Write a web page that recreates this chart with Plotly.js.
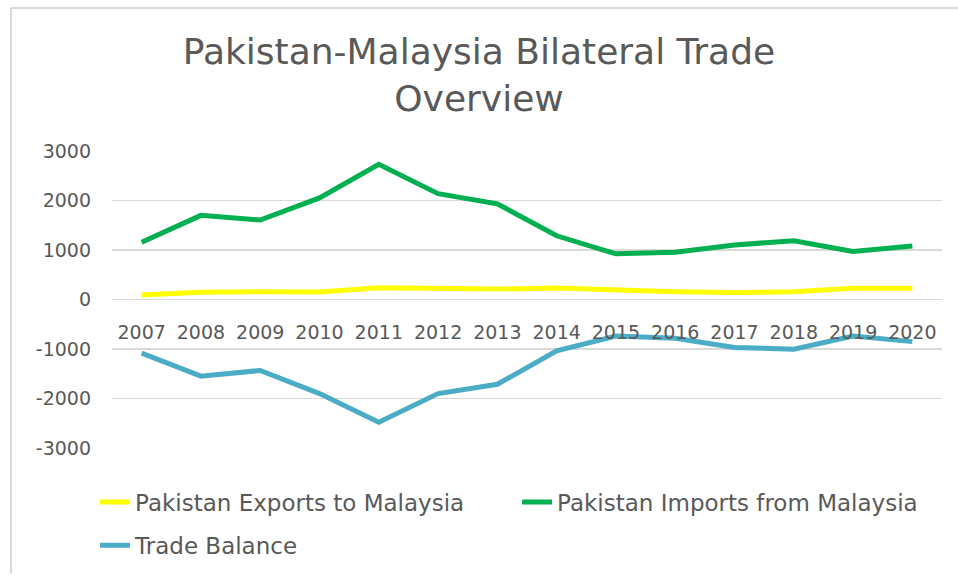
<!DOCTYPE html>
<html>
<head>
<meta charset="utf-8">
<script src="https://cdn.plot.ly/plotly-3.0.1.min.js"></script>
<style>html,body{margin:0;padding:0;background:#fff;}#chart{width:958px;height:579px;}</style>
</head>
<body>
<div id="chart"></div>
<script>
var years = ['2007','2008','2009','2010','2011','2012','2013','2014','2015','2016','2017','2018','2019','2020'];
var exportsToMalaysia = [92,145,159,152,239,231,211,231,191,159,139,159,225,225];
var importsFromMalaysia = [1155,1700,1605,2052,2730,2137,1932,1287,922,956,1101,1187,968,1082];
var tradeBalance = [-1084,-1548,-1434,-1900,-2478,-1900,-1713,-1036,-737,-785,-970,-1004,-737,-851];
var yTicks = [-3000,-2000,-1000,0,1000,2000,3000];
var yTickLabels = ['-3000','-2000','-1000','0','1000','2000','3000'];

var FONT = 'DejaVu Sans';
var GREY = '#595959';

var traces = [
  {x: years, y: exportsToMalaysia, name: 'Pakistan Exports to Malaysia', type: 'scatter', mode: 'lines',
   line: {color: '#FFFF00', width: 5}, legend: 'legend'},
  {x: years, y: importsFromMalaysia, name: 'Pakistan Imports from Malaysia', type: 'scatter', mode: 'lines',
   line: {color: '#00B050', width: 5}, legend: 'legend'},
  {x: years, y: tradeBalance, name: 'Trade Balance', type: 'scatter', mode: 'lines',
   line: {color: '#4BACC6', width: 5}, legend: 'legend2'}
];

var layout = {
  width: 958, height: 579,
  margin: {l: 112, r: 16, t: 151, b: 127},
  paper_bgcolor: '#ffffff', plot_bgcolor: '#ffffff',
  font: {family: FONT, color: GREY, size: 19},
  title: {text: 'Pakistan-Malaysia Bilateral Trade<br>Overview', font: {family: FONT, size: 36, color: GREY},
          x: 0.5, xanchor: 'center', y: 1 - 64/579, yanchor: 'top', yref: 'container'},
  xaxis: {type: 'category', range: [-0.5, 13.5], anchor: 'free', position: 0.5,
          showgrid: false, showline: false, zeroline: false, ticks: '', ticklabelstandoff: 19,
          tickfont: {family: FONT, size: 19, color: GREY}, fixedrange: true},
  yaxis: {range: [-3000, 3000], tickvals: yTicks, ticktext: yTickLabels, showgrid: true, gridcolor: '#d9d9d9', gridwidth: 1.5,
          zeroline: false, showline: false, ticks: '', ticklabelstandoff: 20,
          tickfont: {family: FONT, size: 19, color: GREY}, fixedrange: true},
  showlegend: true,
  legend: {orientation: 'h', x: -0.0204, xanchor: 'left', y: -0.11, yanchor: 'top',
           font: {family: FONT, size: 23, color: GREY}, entrywidth: 377, entrywidthmode: 'pixels',
           bgcolor: 'rgba(0,0,0,0)'},
  legend2: {orientation: 'h', x: -0.0204, xanchor: 'left', y: -0.255, yanchor: 'top',
           font: {family: FONT, size: 23, color: GREY}, bgcolor: 'rgba(0,0,0,0)'},
  shapes: [
    {type: 'line', xref: 'paper', yref: 'paper', x0: -0.1217, x1: -0.1217, y0: -0.422, y1: 1.4817,
     line: {color: '#d9d9d9', width: 2}},
    {type: 'line', xref: 'paper', yref: 'paper', x0: -0.1217, x1: 1.0193, y0: 1.4817, y1: 1.4817,
     line: {color: '#d9d9d9', width: 2}}
  ]
};

Plotly.newPlot('chart', traces, layout, {displayModeBar: false, staticPlot: true});
</script>
</body>
</html>
